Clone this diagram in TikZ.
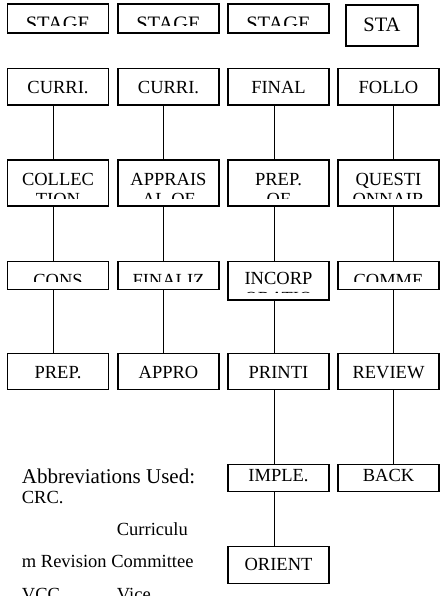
\documentclass[tikz,border=0pt]{standalone}
\usepackage{fontspec}
\setmainfont{Liberation Serif}
\tikzset{
  boxst/.style={draw, line width=1.3pt, inner sep=0pt, outer sep=0pt, anchor=north west},
  txt/.style={inner sep=0pt, anchor=base, font=\fontsize{18.5}{20.5}\selectfont},
  bigtxt/.style={inner sep=0pt, anchor=base, font=\fontsize{20.5}{22}\selectfont},
  abbr/.style={inner sep=0pt, anchor=base west, font=\fontsize{18.5}{20.5}\selectfont},
  conn/.style={draw, line width=1.2pt}
}
% #1 name, #2 x1, #3 y1, #4 x2, #5 y2, #6 baseline, #7 first line, #8 second line
\newcommand\mkbx[8]{%
  \node[boxst, minimum width={(#4-#2)*1pt}, minimum height={(#5-#3)*1pt}] (#1) at (#2,#3) {};
  \begin{scope}
    \clip (#2,#3) rectangle (#4,#5-7.5);
    \node[txt] (#1t) at ({(#2+#4)/2},#6) {#7};
    \if\relax\detokenize{#8}\relax\else
      \node[txt] (#1u) at ({(#2+#4)/2},#6+20) {#8};
    \fi
  \end{scope}}
\begin{document}
\begin{tikzpicture}[x=1pt,y=-1pt]
\useasboundingbox (0,0) rectangle (442,602);
% top row
\node[boxst, minimum width=101pt, minimum height=29pt] (s1) at (7.5,4) {};
\node[boxst, minimum width=101pt, minimum height=29pt] (s2) at (118,4) {};
\node[boxst, minimum width=101pt, minimum height=29pt] (s3) at (228,4) {};
\node[boxst, minimum width=72pt, minimum height=41pt] (s4) at (346,5) {};
\begin{scope}
  \clip (0,0) rectangle (442,25.5);
  \node[bigtxt] (s1t) at (58,31) {STAGE};
  \node[bigtxt] (s2t) at (168.5,31) {STAGE};
  \node[bigtxt] (s3t) at (278.5,31) {STAGE};
\end{scope}
\node[bigtxt] (s4t) at (382,31.5) {STA};
% row 2
\mkbx{a2}{7.5}{68.5}{108.5}{105}{93.5}{CURRI.}{}
\mkbx{b2}{118}{68.5}{219}{105}{93.5}{CURRI.}{}
\mkbx{c2}{228}{68.5}{329}{105}{93.5}{FINAL}{}
\mkbx{d2}{338}{68.5}{439}{105}{93.5}{FOLLO}{}
% row 3
\mkbx{a3}{7.5}{160}{108.5}{206}{185.5}{COLLEC}{TION}
\mkbx{b3}{118}{160}{219}{206}{185.5}{APPRAIS}{AL OF}
\mkbx{c3}{228}{160}{329}{206}{185.5}{PREP.}{OF}
\mkbx{d3}{338}{160}{439}{206}{185.5}{QUESTI}{ONNAIR}
% row 4
\mkbx{a4}{7.5}{261.7}{108.5}{289.3}{286}{CONS}{}
\mkbx{b4}{118}{261.7}{219}{289.3}{286}{FINALIZ}{}
\mkbx{c4}{228}{261.7}{329}{300}{284.5}{INCORP}{ORATIO}
\mkbx{d4}{338}{261.7}{439}{289.3}{286}{COMME}{}
% row 5
\mkbx{a5}{7.5}{353.3}{108.5}{389.3}{378}{PREP.}{}
\mkbx{b5}{118}{353.3}{219}{389.3}{378}{APPRO}{}
\mkbx{c5}{228}{353.3}{329}{389.3}{378}{PRINTI}{}
\mkbx{d5}{338}{353.3}{439}{389.3}{378}{REVIEW}{}
% row 6
\mkbx{c6}{228}{464.3}{329}{491.7}{481.5}{IMPLE.}{}
\mkbx{d6}{338}{464.3}{439}{491.7}{481.5}{BACK}{}
% row 7
\mkbx{c7}{228}{546.7}{329}{583.3}{570}{ORIENT}{}
% connectors
\foreach \p/\q in {a2/a3,a3/a4,a4/a5}
  \draw[conn] ([xshift=-4.5pt]\p.south) -- ([xshift=-4.5pt]\q.north);
\foreach \p/\q in {b2/b3,b3/b4,b4/b5}
  \draw[conn] ([xshift=-4.8pt]\p.south) -- ([xshift=-4.8pt]\q.north);
\foreach \p/\q in {c2/c3,c3/c4,c4/c5,c5/c6,c6/c7}
  \draw[conn] ([xshift=-4.2pt]\p.south) -- ([xshift=-4.2pt]\q.north);
\foreach \p/\q in {d2/d3,d3/d4,d4/d5,d5/d6}
  \draw[conn] ([xshift=5pt]\p.south) -- ([xshift=5pt]\q.north);
% abbreviations
\node[abbr, font=\fontsize{21}{22}\selectfont] (ab0) at (21.7,483.3) {Abbreviations Used:};
\node[abbr] (ab1) at (21.7,503.3) {CRC.};
\node[abbr] (ab2) at (116.7,535.7) {Curriculu};
\node[abbr] (ab3) at (21.7,567.3) {m Revision Committee};
\begin{scope}
  \clip (0,570) rectangle (220,595);
  \node[abbr] (ab4) at (21.7,600) {VCC};
  \node[abbr] (ab5) at (116.7,600) {Vice};
\end{scope}
\end{tikzpicture}
\end{document}
